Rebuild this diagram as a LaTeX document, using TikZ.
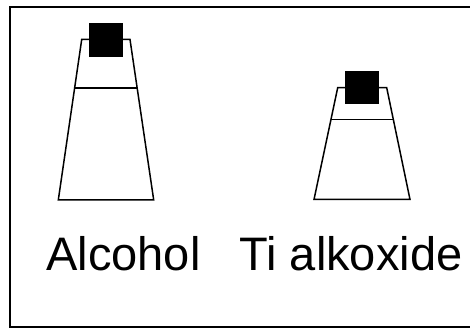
\documentclass[tikz,border=0pt]{standalone}
\usepackage{fontspec}
\setmainfont{Liberation Sans}
\usetikzlibrary{calc}
\begin{document}
\begin{tikzpicture}[x=1pt,y=1pt,
  frame/.style={line width=2pt},
  bottleline/.style={line width=1.5pt, line join=miter},
  capbox/.style={fill=black},
  label/.style={anchor=base, inner sep=0pt, font=\fontsize{47}{50}\selectfont}]
  \useasboundingbox (0,0) rectangle (470,328);
  \begin{scope}
    \clip (0,0) rectangle (470,328);
    % open frame: left, top and bottom edges
    \draw[frame] (480,320.7) -- (10,320.7) -- (10,1.2) -- (480,1.2);
  \end{scope}

  % alcohol bottle
  \coordinate (a-bl) at (58.3,128);
  \coordinate (a-br) at (153.7,128);
  \coordinate (a-tr) at (130,288.5);
  \coordinate (a-tl) at (81.7,288.5);
  \draw[bottleline] (a-bl) -- (a-br) -- (a-tr) -- (a-tl) -- cycle;
  \draw[bottleline] ($(a-bl)!0.698!(a-tl)$) -- ($(a-br)!0.698!(a-tr)$);
  \fill[capbox] (89,271.3) rectangle (123,305);

  % titanium alkoxide bottle
  \coordinate (t-bl) at (314,128.5);
  \coordinate (t-br) at (410,128.5);
  \coordinate (t-tr) at (386.7,240.3);
  \coordinate (t-tl) at (337.7,240.3);
  \draw[bottleline] (t-bl) -- (t-br) -- (t-tr) -- (t-tl) -- cycle;
  \draw[bottleline] ($(t-bl)!0.717!(t-tl)$) -- ($(t-br)!0.717!(t-tr)$);
  \fill[capbox] (345,223.7) rectangle (379,257);

  % labels
  \node[label] (alc) at (123.4,57) {Alcohol};
  \node[label] (tia) at (350.9,57) {Ti alkoxide};
\end{tikzpicture}
\end{document}
